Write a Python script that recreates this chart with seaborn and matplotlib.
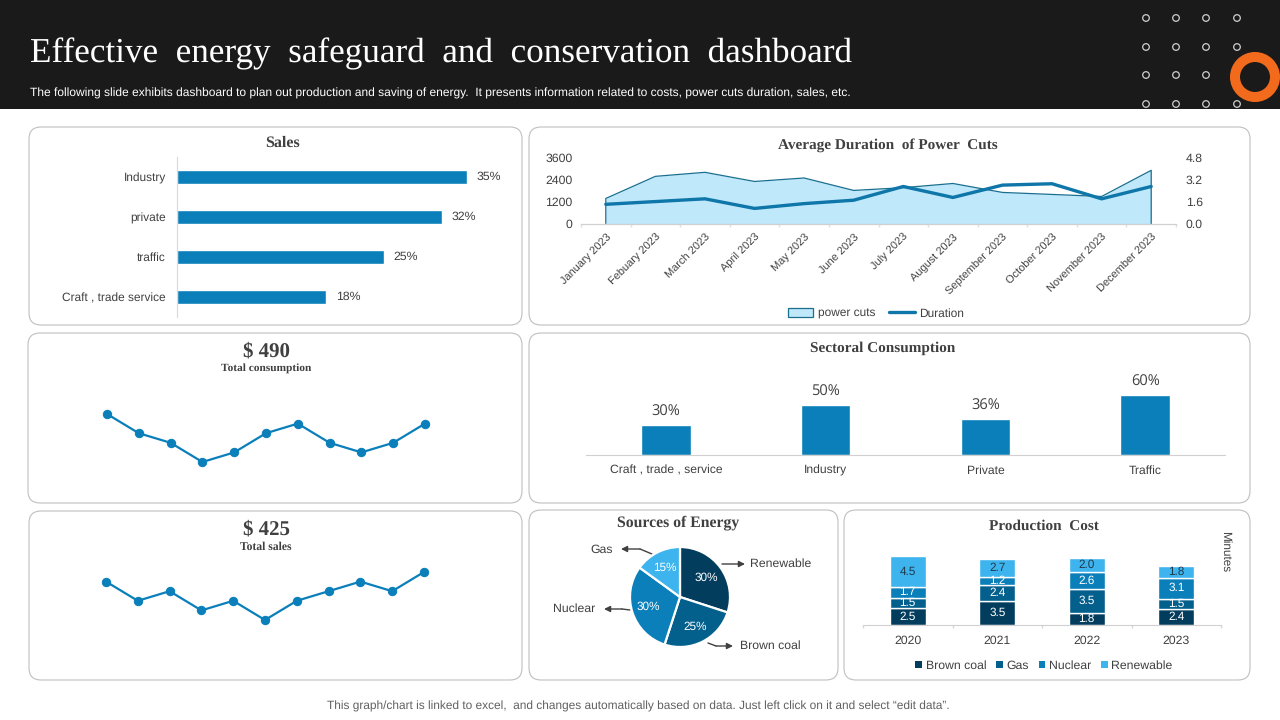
import numpy as np
import pandas as pd
import matplotlib
matplotlib.use("Agg")
import matplotlib.pyplot as plt
import seaborn as sns
from matplotlib.patches import FancyBboxPatch, Circle, Rectangle, Patch
from matplotlib.lines import Line2D

# --- data ---
sales_labels = ["Industry", "private", "traffic", "Craft , trade service"]
sales_values = [35, 32, 25, 18]

months = ["January 2023", "Febuary 2023", "March 2023", "April 2023", "May 2023", "June 2023",
          "July 2023", "August 2023", "September 2023", "October 2023", "November 2023", "December 2023"]
power_cuts = [1370, 2580, 2800, 2300, 2490, 1810, 1960, 2190, 1700, 1590, 1480, 2910]
duration = [1.4, 1.6, 1.8, 1.1, 1.45, 1.7, 2.7, 1.9, 2.8, 2.9, 1.8, 2.7]

consumption_trend = [5, 3, 2, 0, 1, 3, 4, 2, 1, 2, 4]
sales_trend = [4, 2, 3, 1, 2, 0, 2, 3, 4, 3, 5]

sector_labels = ["Craft , trade , service", "Industry", "Private", "Traffic"]
sector_values = [30, 50, 36, 60]

energy_labels = ["Renewable", "Brown coal", "Nuclear", "Gas"]
energy_values = [30, 25, 30, 15]

years = ["2020", "2021", "2022", "2023"]
brown_coal = [2.5, 3.5, 1.8, 2.4]
gas = [1.5, 2.4, 3.5, 1.5]
nuclear = [1.7, 1.2, 2.6, 3.1]
renewable = [4.5, 2.7, 2.0, 1.8]

BLUE = "#0a7fba"
DARK = "#033d5e"
MID = "#035f8c"
LIGHT = "#3db4ee"
TEXT = "#404040"
SERIF = "Liberation Serif"

sns.set_theme(style="white")
plt.rcParams["font.family"] = ["Liberation Sans", "DejaVu Sans"]
plt.rcParams["text.hinting"] = "no_hinting"
plt.rcParams["text.color"] = TEXT
plt.rcParams["axes.labelcolor"] = TEXT
plt.rcParams["xtick.color"] = TEXT
plt.rcParams["ytick.color"] = TEXT

fig = plt.figure(figsize=(12.8, 7.2), dpi=100, facecolor="white")


def px_axes(x0, y0, x1, y1):
    # axes placed by pixel box, y counted from the top of the slide
    ax = fig.add_axes([x0 / 1280, 1 - y1 / 720, (x1 - x0) / 1280, (y1 - y0) / 720])
    ax.patch.set_alpha(0)
    return ax


def clean(ax):
    for s in ["top", "left", "right"]:
        ax.spines[s].set_visible(False)
    ax.spines["bottom"].set_color("#d0d0d0")
    ax.spines["bottom"].set_linewidth(0.8)
    ax.set_xlabel("")
    ax.set_ylabel("")


# --- slide background, header, panels ---
bg = px_axes(0, 0, 1280, 720)
bg.set_xlim(0, 1280)
bg.set_ylim(720, 0)
bg.axis("off")
bg.add_patch(Rectangle((0, 0), 1280, 109, color="#1a1a1a", lw=0))
for y in [18, 47, 75, 104]:
    for x in [1146, 1176, 1206, 1237]:
        bg.add_patch(Circle((x, y), 3.3, fc="none", ec="#d0d0d0", lw=0.9))
bg.add_patch(Circle((1255, 77), 20, fc="#1a1a1a", ec="#f26a1b", lw=7.2, zorder=3))
bg.text(30, 54, "Effective  energy  safeguard  and  conservation  dashboard", color="white",
        family=SERIF, fontsize=25.3, va="center", ha="left")
bg.text(30, 93, "The following slide exhibits dashboard to plan out production and saving of energy.  It presents information related to costs, power cuts duration, sales, etc.",
        color="white", fontsize=8.68, va="center", ha="left")
bg.text(638, 706, "This graph/chart is linked to excel,  and changes automatically based on data. Just left click on it and select \u201cedit data\u201d.",
        color="#606060", fontsize=8.55, va="center", ha="center")

panels = [(29, 127, 522, 325), (529, 127, 1250, 325), (28, 333, 522, 503), (529, 333, 1250, 503),
          (29, 511, 522, 680), (529, 510, 838, 680), (844, 510, 1250, 680)]
for x0, y0, x1, y1 in panels:
    bg.add_patch(FancyBboxPatch((x0 + 12, y0 + 12), x1 - x0 - 24, y1 - y0 - 24,
                                boxstyle="round,pad=12,rounding_size=12", fc="white", ec="#bfbfbf", lw=0.8))

for x, y, txt, size in [(282, 143, "Sales", 11.5), (888, 145, "Average Duration  of Power  Cuts", 11),
                        (883, 348, "Sectoral Consumption", 11), (678, 523, "Sources of Energy", 11.3),
                        (1044, 526, "Production  Cost", 11)]:
    bg.text(x, y, txt, family=SERIF, weight="bold", fontsize=size, ha="center", va="center")
bg.text(266, 351, "$ 490", family=SERIF, weight="bold", fontsize=15, ha="center", va="center")
bg.text(266, 368, "Total consumption", family=SERIF, weight="bold", fontsize=8.2, ha="center", va="center")
bg.text(266, 529, "$ 425", family=SERIF, weight="bold", fontsize=15, ha="center", va="center")
bg.text(266, 547, "Total sales", family=SERIF, weight="bold", fontsize=8.4, ha="center", va="center")

# --- Sales ---
ax = px_axes(177, 157, 508, 317)
sns.barplot(x=sales_values, y=sales_labels, color=BLUE, saturation=1, width=0.35, ax=ax)
ax.set_xlim(0, 40)
ax.set_ylim(3.5, -0.5)
ax.bar_label(ax.containers[0], fmt="%d%%", padding=7, fontsize=8.8, color=TEXT)
sns.despine(ax=ax, bottom=True)
ax.spines["left"].set_color("#d9d9d9")
ax.spines["left"].set_linewidth(0.8)
ax.set_xticks([])
ax.tick_params(axis="y", length=0, labelsize=8.6, pad=8)

# --- Average duration of power cuts ---
ax = px_axes(581, 157.7, 1176, 223.5)
xpos = np.arange(len(months))
ax.fill_between(xpos, power_cuts, 0, color="#bfe8fb", lw=0)
ax.plot(np.r_[xpos[0], xpos, xpos[-1]], np.r_[0, power_cuts, 0], color="#1a6f8f", lw=0.9)
ax.set_xlim(-0.5, 11.5)
ax.set_ylim(0, 3600)
ax.set_yticks([0, 1200, 2400, 3600])
ax.set_xticks(xpos)
ax.set_xticklabels(months, rotation=45, ha="right", rotation_mode="anchor", fontsize=7.9)
ax.set_xticks(np.arange(-0.5, 12), minor=True)
ax.tick_params(axis="x", which="major", length=0, pad=6)
ax.tick_params(axis="x", which="minor", length=2, color="#e0e0e0", bottom=True)
ax.tick_params(axis="y", length=0, labelsize=8.8, pad=6)
clean(ax)
ax2 = ax.twinx()
ax2.patch.set_alpha(0)
sns.lineplot(x=xpos, y=duration, color="#0e76a8", lw=2.4, errorbar=None, ax=ax2)
ax2.set_ylim(0, 4.8)
ax2.set_yticks([0, 1.6, 3.2, 4.8])
ax2.set_yticklabels(["0.0", "1.6", "3.2", "4.8"])
ax2.tick_params(axis="y", length=0, labelsize=8.8, pad=7)
clean(ax2)
ax2.legend(handles=[Patch(fc="#bfe8fb", ec="#1a6f8f", lw=0.9, label="power cuts"),
                    Line2D([0], [0], color="#0e76a8", lw=2.4, label="Duration")],
           loc="center", bbox_to_anchor=(876 / 1280, 1 - 313.5 / 720), bbox_transform=fig.transFigure,
           ncol=2, frameon=False, fontsize=8.6, handlelength=2.1, handletextpad=0.35, columnspacing=1.2)

# --- sparklines ---
ax = px_axes(107, 414, 425, 462)
sns.lineplot(x=range(len(consumption_trend)), y=consumption_trend, color=BLUE, lw=1.6, marker="o", ms=6,
             mec=BLUE, clip_on=False, errorbar=None, ax=ax)
ax.set_xlim(0, 10)
ax.set_ylim(0, 5)
ax.axis("off")

ax = px_axes(106, 572, 424, 620)
sns.lineplot(x=range(len(sales_trend)), y=sales_trend, color=BLUE, lw=1.6, marker="o", ms=6,
             mec=BLUE, clip_on=False, errorbar=None, ax=ax)
ax.set_xlim(0, 10)
ax.set_ylim(0, 5)
ax.axis("off")

# --- Sectoral consumption ---
ax = px_axes(586, 385, 1225, 455)
sns.barplot(x=sector_labels, y=sector_values, color=BLUE, saturation=1, width=0.31, ax=ax)
ax.set_xlim(-0.5, 3.5)
ax.set_ylim(0, 70)
ax.bar_label(ax.containers[0], fmt="%d%%", padding=4, fontsize=10.5, family="Open Sans", color=TEXT)
clean(ax)
ax.set_yticks([])
ax.tick_params(axis="x", length=0, labelsize=8.7, pad=7)

# --- Sources of energy ---
ax = px_axes(630, 547, 730, 647)
ax.pie(energy_values, colors=[DARK, MID, BLUE, LIGHT], startangle=90, counterclock=False, radius=1,
       autopct="%d%%", pctdistance=0.66, wedgeprops={"edgecolor": "white", "linewidth": 1.6},
       textprops={"color": "white", "fontsize": 8.5})
ax.set_xlim(-1, 1)
ax.set_ylim(-1, 1)

arrow = dict(arrowstyle="-|>", color=TEXT, lw=1, mutation_scale=9, shrinkA=0, shrinkB=0)
bg.annotate("", xy=(745, 564), xytext=(722, 564), arrowprops=arrow)
bg.annotate("", xy=(733, 646), xytext=(716, 646), arrowprops=arrow)
bg.plot([708, 716], [643, 646], color=TEXT, lw=1)
bg.annotate("", xy=(604, 609), xytext=(622, 609), arrowprops=arrow)
bg.plot([622, 630], [609, 610], color=TEXT, lw=1)
bg.annotate("", xy=(621, 549), xytext=(640, 549), arrowprops=arrow)
bg.plot([640, 652], [549, 554], color=TEXT, lw=1)
bg.text(750, 564, energy_labels[0], fontsize=8.8, va="center")
bg.text(740, 646, energy_labels[1], fontsize=8.8, va="center")
bg.text(595, 609, energy_labels[2], fontsize=8.8, va="center", ha="right")
bg.text(613, 550, energy_labels[3], fontsize=8.8, va="center", ha="right")

# --- Production cost ---
ax = px_axes(863, 544, 1221, 625)
bottom = np.zeros(len(years))
stack = [("Brown coal", brown_coal, DARK, "white"), ("Gas", gas, MID, "white"),
         ("Nuclear", nuclear, BLUE, "white"), ("Renewable", renewable, LIGHT, "#1f3a4d")]
for name, vals, col, lab_col in stack:
    sns.barplot(x=years, y=vals, bottom=bottom, color=col, saturation=1, width=0.4, ax=ax)
    ax.bar_label(ax.containers[-1], fmt="%.1f", label_type="center", fontsize=8.5, color=lab_col)
    bottom = bottom + np.array(vals)
ax.set_xlim(-0.5, 3.5)
ax.set_ylim(0, 12)
clean(ax)
ax.set_yticks([])
ax.set_xticks(np.arange(-0.5, 4), minor=True)
ax.tick_params(axis="x", which="major", length=0, labelsize=8.8, pad=7)
ax.tick_params(axis="x", which="minor", length=2, color="#d8d8d8", bottom=True)
ax.legend(handles=[Patch(fc=c, lw=0, label=n) for n, _, c, _ in stack], loc="center",
          bbox_to_anchor=(1044 / 1280, 1 - 665.5 / 720), bbox_transform=fig.transFigure, ncol=4,
          frameon=False, fontsize=8.8, handlelength=0.55, handleheight=0.55, handletextpad=0.3, columnspacing=0.8)
bg.text(1225, 552, "Minutes", fontsize=8.5, rotation=270, ha="center", va="center")

fig.savefig("out.png", dpi=100)
